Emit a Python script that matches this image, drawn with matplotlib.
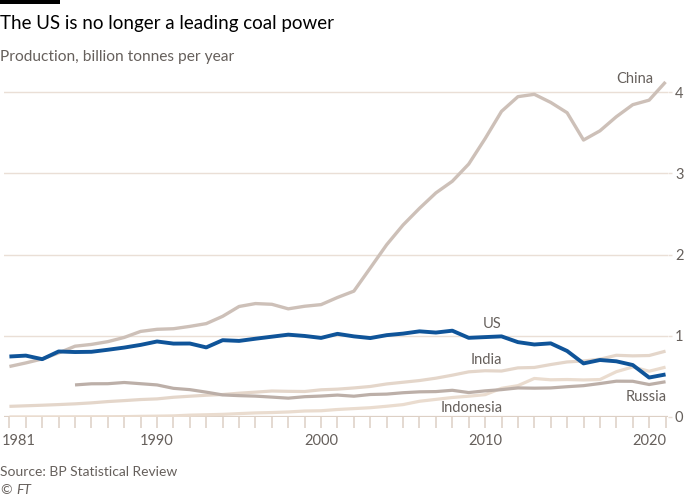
import matplotlib
matplotlib.use("Agg")
import matplotlib.pyplot as plt
import numpy as np

years = list(range(1981, 2022))
china = [0.622, 0.666, 0.715, 0.789, 0.872, 0.894, 0.928, 0.980, 1.054, 1.080,
         1.087, 1.116, 1.150, 1.240, 1.361, 1.397, 1.388, 1.332, 1.364, 1.384,
         1.472, 1.550, 1.835, 2.122, 2.365, 2.570, 2.760, 2.903, 3.115, 3.428,
         3.764, 3.945, 3.974, 3.874, 3.747, 3.411, 3.524, 3.698, 3.846, 3.902, 4.126]
us = [0.745, 0.756, 0.712, 0.807, 0.800, 0.803, 0.828, 0.855, 0.888, 0.930,
      0.904, 0.905, 0.857, 0.946, 0.937, 0.964, 0.989, 1.014, 0.998, 0.974,
      1.024, 0.993, 0.972, 1.008, 1.027, 1.055, 1.040, 1.063, 0.975, 0.984,
      0.993, 0.922, 0.893, 0.907, 0.813, 0.660, 0.702, 0.686, 0.640, 0.486, 0.524]
india = [0.131, 0.138, 0.145, 0.153, 0.162, 0.174, 0.190, 0.202, 0.215, 0.223,
         0.243, 0.256, 0.268, 0.277, 0.293, 0.306, 0.320, 0.316, 0.314, 0.335,
         0.343, 0.358, 0.376, 0.407, 0.428, 0.449, 0.478, 0.515, 0.556, 0.570,
         0.566, 0.605, 0.610, 0.646, 0.678, 0.690, 0.712, 0.760, 0.753, 0.757, 0.811]
russia_years = list(range(1985, 2022))
russia = [0.395, 0.409, 0.410, 0.425, 0.410, 0.395, 0.353, 0.337, 0.306, 0.272,
          0.263, 0.257, 0.245, 0.232, 0.250, 0.258, 0.270, 0.256, 0.277, 0.282,
          0.299, 0.310, 0.313, 0.329, 0.301, 0.322, 0.337, 0.358, 0.355, 0.358,
          0.373, 0.386, 0.412, 0.441, 0.440, 0.400, 0.434]
indonesia = [0.0004, 0.0005, 0.0006, 0.0010, 0.0020, 0.0025, 0.0030, 0.0045, 0.0080, 0.0105,
             0.0137, 0.0229, 0.0276, 0.0326, 0.0418, 0.0503, 0.0548, 0.0620, 0.0738, 0.0770,
             0.0925, 0.1033, 0.1143, 0.1324, 0.1527, 0.1938, 0.2169, 0.2402, 0.2562, 0.2752,
             0.3533, 0.3861, 0.4746, 0.4581, 0.4616, 0.4562, 0.4612, 0.5578, 0.6162, 0.5637, 0.6140]
xtick_labels = [1981, 1990, 2000, 2010, 2020]
ytick_values = [0, 1, 2, 3, 4]

FONT = ["Lato", "DejaVu Sans"]
plt.rcParams["font.family"] = FONT
GRAY = "#66605c"
GRID = "#eadfd6"

fig = plt.figure(figsize=(7, 5), dpi=100)
fig.patch.set_facecolor("white")
ax = fig.add_axes([4/700, 83/500, 664/700, 345.1/500])
ax.set_xlim(1980.67, 2021.15)
ax.set_ylim(0, 4.25)

for v in ytick_values[1:]:
    ax.axhline(v, color=GRID, lw=1.0, zorder=0)
ax.axhline(0, color="#ddd0c5", lw=1.6, zorder=1)

ax.plot(years, indonesia, color="#eadccf", lw=2.3, solid_capstyle="butt", zorder=2)
ax.plot(years, india, color="#e4d6ca", lw=2.3, solid_capstyle="butt", zorder=2)
ax.plot(russia_years, russia, color="#bcafa8", lw=2.3, solid_capstyle="butt", zorder=3)
ax.plot(years, china, color="#cdc0b8", lw=2.4, solid_capstyle="butt", zorder=3)
ax.plot(years, us, color="#0f5499", lw=2.8, solid_capstyle="butt", zorder=4)

for s in ax.spines.values():
    s.set_visible(False)

ax.set_xticks(years, minor=True)
ax.set_xticks(xtick_labels)
ax.set_xticklabels([""] + [str(y) for y in xtick_labels[1:]], fontsize=10.5, color=GRAY)
ax.tick_params(axis="x", which="both", direction="out", length=8, width=1.1,
               color="#ddd0c5", pad=4)
ax.annotate(str(xtick_labels[0]), xy=(xtick_labels[0], 0), xycoords=("data", "axes fraction"),
            xytext=(-5.5, -12), textcoords="offset points", ha="left", va="top",
            fontsize=10.5, color=GRAY)
ax.yaxis.tick_right()
ax.set_yticks(ytick_values)
ax.set_yticklabels([str(v) for v in ytick_values], fontsize=10.5, color=GRAY)
ax.tick_params(axis="y", length=3, width=1, color=GRID, pad=2)

lab = dict(fontsize=10.5, color=GRAY)
ax.text(2019.1, 4.08, "China", ha="center", va="bottom", **lab)
ax.text(2010.4, 1.06, "US", ha="center", va="bottom", **lab)
ax.text(2010.1, 0.70, "India", ha="center", va="center", **lab)
ax.text(2021.1, 0.245, "Russia", ha="right", va="center", **lab)
ax.text(2009.2, 0.105, "Indonesia", ha="center", va="center", **lab)

fig.add_artist(plt.Rectangle((0, 1 - 4/500), 60/700, 4/500, transform=fig.transFigure,
                             color="black", lw=0))
fig.text(0, 1 - 23/500, "The US is no longer a leading coal power", fontsize=13.5,
         color="black", ha="left", va="center")
fig.text(0, 1 - 57/500, "Production, billion tonnes per year", fontsize=11.2,
         color=GRAY, ha="left", va="center")
fig.text(0, 1 - 472/500, "Source: BP Statistical Review", fontsize=10, color=GRAY,
         ha="left", va="center")
fig.text(0, 1 - 490/500, "©", fontsize=10, color=GRAY, ha="left", va="center")
fig.text(16/700, 1 - 490/500, "FT", fontsize=10, color=GRAY, ha="left", va="center",
         style="italic")

fig.savefig("out.png", dpi=100, facecolor="white")
